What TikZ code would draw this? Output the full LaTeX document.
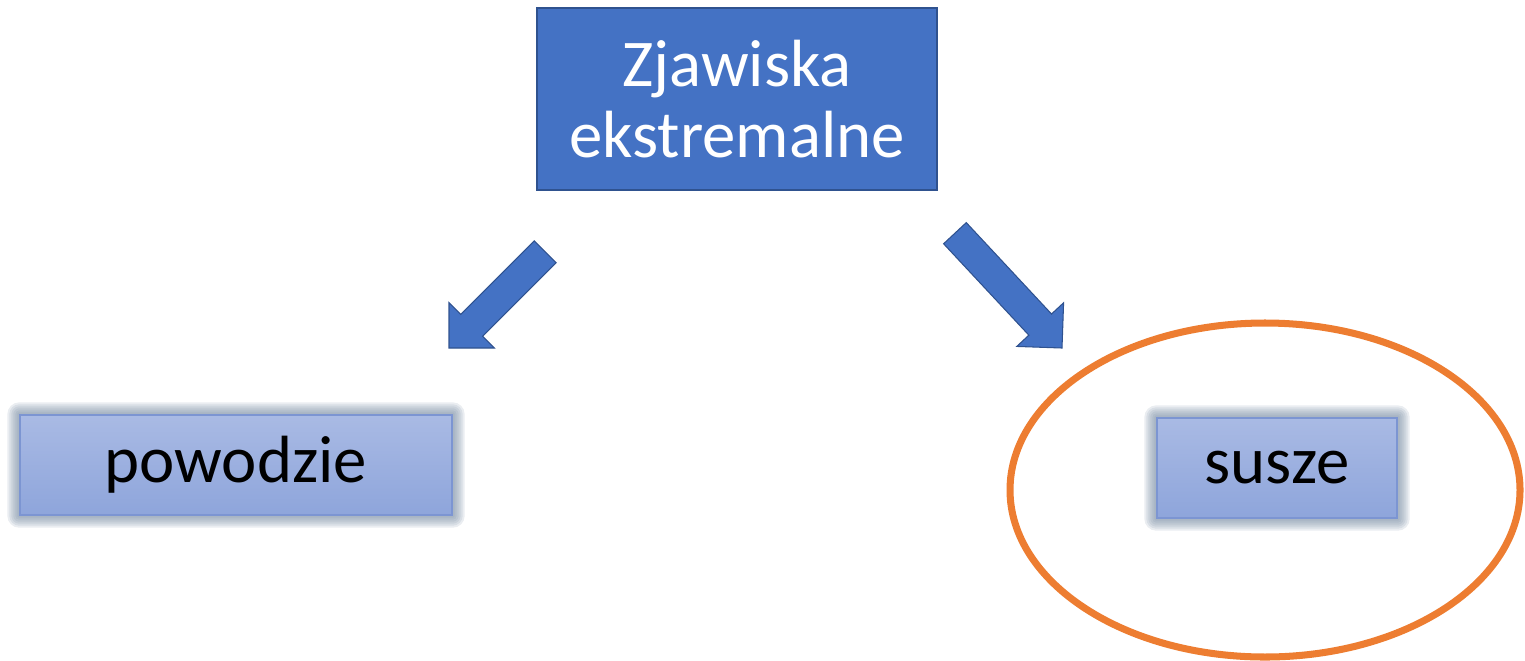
\documentclass[tikz,border=0pt]{standalone}
\usepackage{fontspec}
\setmainfont{Carlito}
\usetikzlibrary{positioning,backgrounds}
\definecolor{zblue}{HTML}{4472C4}
\definecolor{zedge}{HTML}{2F528F}
\definecolor{ltop}{HTML}{A9BAE4}
\definecolor{lbot}{HTML}{8EA5DB}
\definecolor{ledge}{HTML}{7C95D2}
\definecolor{glowc}{HTML}{72879F}
\definecolor{zorange}{HTML}{ED7D31}

\begin{document}
\begin{tikzpicture}[
    topbox/.style={draw=zedge,fill=zblue,text=white,minimum width=4cm,minimum height=1.82cm,align=center,font=\fontsize{19}{20}\selectfont},
    leafbox/.style={draw=ledge,top color=ltop,bottom color=lbot,minimum height=1cm,font=\fontsize{19}{20}\selectfont},
    blockarrow/.style={fill=zblue,draw=zedge,line width=0.3pt},
    glowbox/.style={fill=glowc,opacity=0.15}
]
    \useasboundingbox (0,0) rectangle (15.25,6.6);
    \node[topbox] (zjaw) at (7.37,5.61) {Zjawiska\\ekstremalne};
    \node[leafbox,minimum width=4.32cm] (pow) at (2.36,1.95) {powodzie};
    \node[leafbox,minimum width=2.4cm] (sus) at (12.77,1.92) {susze};
    % glow round the two lower boxes
    \begin{scope}[on background layer]
        \foreach \g in {0.02,0.04,0.06,0.08,0.10,0.12} {
            \fill[glowbox,rounded corners=\g cm] ([shift={(-\g,-\g)}]pow.south west) rectangle ([shift={(\g,\g)}]pow.north east);
            \fill[glowbox,rounded corners=\g cm] ([shift={(-\g,-\g)}]sus.south west) rectangle ([shift={(\g,\g)}]sus.north east);
        }
    \end{scope}
    % block arrows
    \fill[blockarrow,shift={(4.49,3.12)},rotate=225] (0,0) -- (-0.32,0.32) -- (-0.32,0.155) -- (-1.36,0.155) -- (-1.36,-0.155) -- (-0.32,-0.155) -- (-0.32,-0.32) -- cycle;
    \fill[blockarrow,shift={(10.62,3.12)},rotate=-47] (0,0) -- (-0.32,0.32) -- (-0.32,0.155) -- (-1.57,0.155) -- (-1.57,-0.155) -- (-0.32,-0.155) -- (-0.32,-0.32) -- cycle;
    % ring round susze
    \draw[zorange,line width=2pt] (12.65,1.7) ellipse [x radius=2.55cm,y radius=1.67cm];
\end{tikzpicture}
\end{document}
